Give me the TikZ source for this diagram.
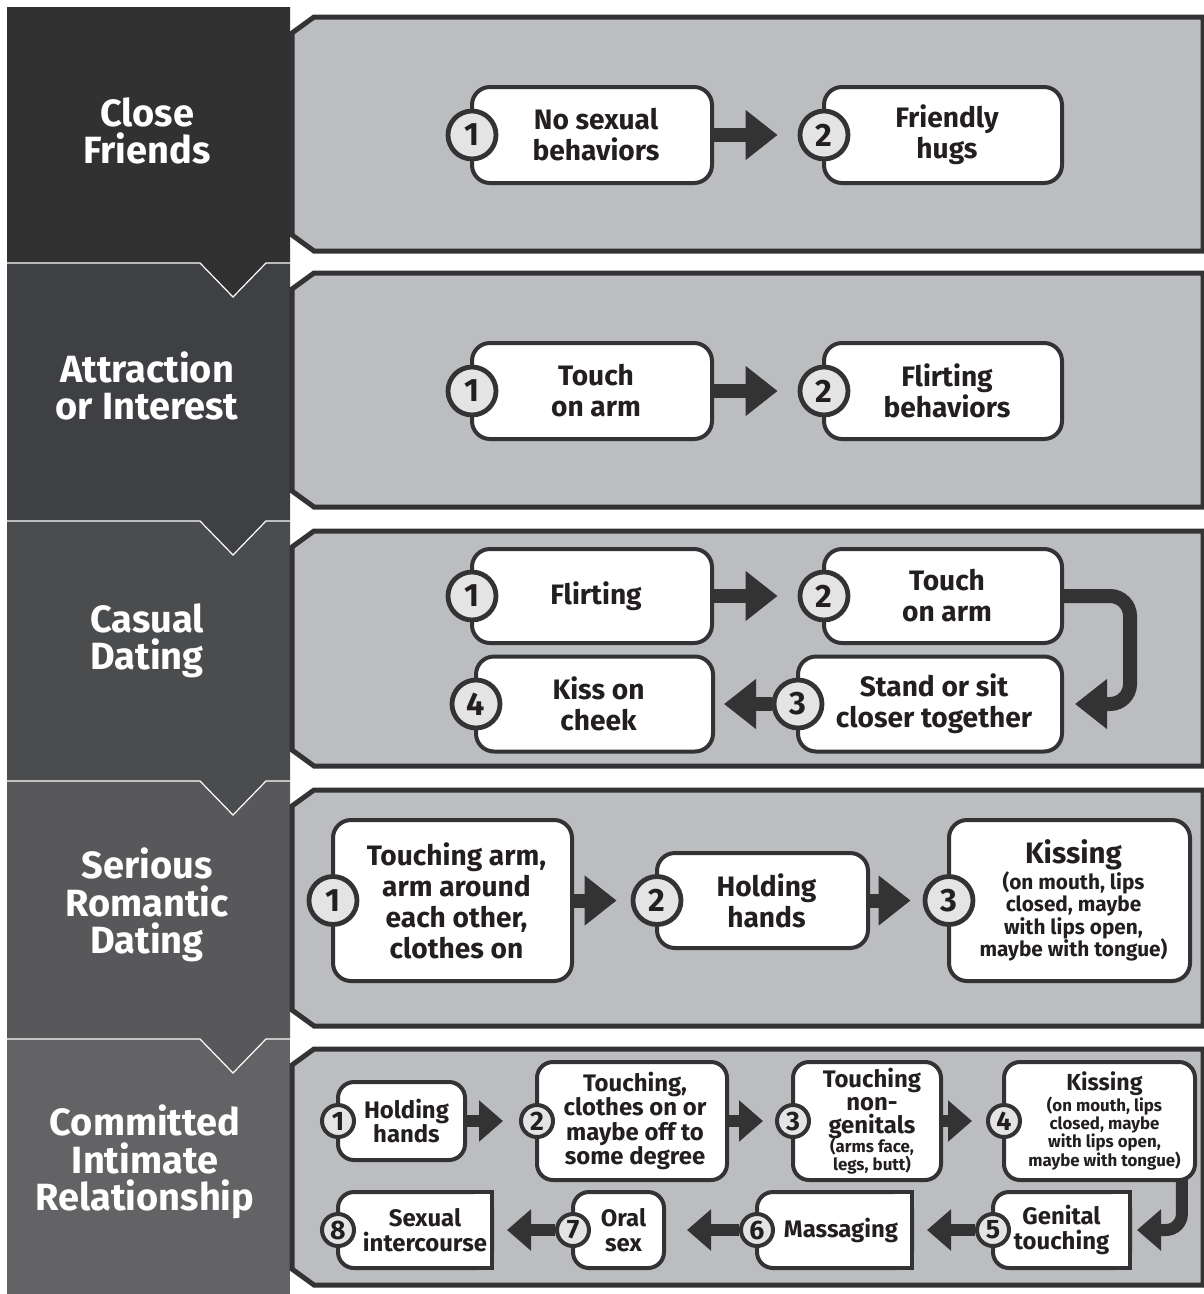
\documentclass[tikz,border=0pt]{standalone}
\usepackage{fontspec}
\setmainfont{Fira Sans}
\usepackage{tikz}
\usetikzlibrary{arrows.meta,positioning}
\usepackage{xcolor}

\definecolor{linec}{HTML}{333333}
\definecolor{panelc}{HTML}{BCBDC0}
\definecolor{textc}{HTML}{231F20}
\definecolor{dotc}{HTML}{E4E4E4}
\definecolor{hdA}{HTML}{313131}
\definecolor{hdB}{HTML}{3F4043}
\definecolor{hdC}{HTML}{4B4C4E}
\definecolor{hdD}{HTML}{58585A}
\definecolor{hdE}{HTML}{636365}

\tikzset{
  panel/.style={fill=panelc, draw=linec, line width=1.25mm, line join=miter},
  stepbox/.style={draw=linec, line width=1mm, fill=white, rounded corners=4.5mm, outer sep=0pt,
    inner sep=0pt, text=textc, font=\bfseries\fontsize{20}{22}\selectfont,
    align=flush center, text width=#1, execute at begin node={\leftskip=2mm plus 1fil}},
  stepbox/.default=52mm,
  smallbox/.style={stepbox=#1, rounded corners=4mm, font=\bfseries\fontsize{17}{17.5}\selectfont,
    execute at begin node={\leftskip=2.5mm plus 1fil}},
  textpad/.style={execute at begin node={\leftskip=#1 plus 1fil}},
  numdot/.style={circle, draw=linec, line width=1.2mm, fill=dotc, minimum size=12mm,
    inner sep=0pt, text=textc, font=\bfseries\fontsize{23}{23}\selectfont},
  smalldot/.style={numdot, minimum size=8mm, line width=1mm, font=\bfseries\fontsize{19}{19}\selectfont},
  flow/.style={draw=linec, line width=3.5mm, -{Triangle[length=8mm,width=12mm]}},
  smallflow/.style={draw=linec, line width=3mm, -{Triangle[length=6mm,width=10mm]}},
  header/.style={text=white, align=center, font=\bfseries\fontsize{27}{26.5}\selectfont},
  seam/.style={draw=white, line width=0.3mm}
}

\begin{document}
\begin{tikzpicture}[x=0.25mm, y=-0.25mm]
\useasboundingbox (0,0) rectangle (1204,1294);
% header column, lowest first so the notches overlap
\fill[hdE] (7,1039) rectangle (290,1294);
\fill[hdD] (7,781) -- (290,781) -- (290,1039) -- (266,1039) -- (233,1073) -- (200,1039) -- (7,1039) -- cycle;
\fill[hdC] (7,521) -- (290,521) -- (290,781) -- (266,781) -- (233,815) -- (200,781) -- (7,781) -- cycle;
\fill[hdB] (7,263) -- (290,263) -- (290,521) -- (266,521) -- (233,555) -- (200,521) -- (7,521) -- cycle;
\fill[hdA] (7,7) -- (290,7) -- (290,263) -- (266,263) -- (233,297) -- (200,263) -- (7,263) -- cycle;
\draw[seam] (7,263) -- (200,263) -- (233,297) -- (266,263) -- (290,263);
\draw[seam] (7,521) -- (200,521) -- (233,555) -- (266,521) -- (290,521);
\draw[seam] (7,781) -- (200,781) -- (233,815) -- (266,781) -- (290,781);
\draw[seam] (7,1039) -- (200,1039) -- (233,1073) -- (266,1039) -- (290,1039);
\node[header] (hd1) at (147,131) {Close\\Friends};
\node[header] (hd2) at (147,386) {Attraction\\or Interest};
\node[header] (hd3) at (147,641) {Casual\\Dating};
\node[header] (hd4) at (147,905) {Serious\\Romantic\\Dating};
\node[header] (hd5) at (145,1162) {Committed\\Intimate\\Relationship};

% panels
\draw[panel] (314,17) -- (1203,17) -- (1203,251) -- (314,251) -- (292,235) -- (292,33) -- cycle;
\draw[panel] (314,273) -- (1203,273) -- (1203,507) -- (314,507) -- (292,491) -- (292,289) -- cycle;
\draw[panel] (314,531) -- (1203,531) -- (1203,766) -- (314,766) -- (292,750) -- (292,547) -- cycle;
\draw[panel] (314,790) -- (1203,790) -- (1203,1026) -- (314,1026) -- (292,1010) -- (292,806) -- cycle;
\draw[panel] (314,1049) -- (1203,1049) -- (1203,1285) -- (314,1285) -- (292,1269) -- (292,1065) -- cycle;

% close friends
\node[stepbox, minimum width=60mm, minimum height=24mm] (b11) at (592,135) {No sexual\\behaviors};
\node[stepbox, minimum width=59.5mm, minimum height=24mm] (b12) at (943,135) {Friendly\\hugs};
\node[numdot] (c11) at (b11.west) {1};
\node[numdot] (c12) at (b12.west) {2};
\draw[flow, shorten >=5mm] (b11.east) -- (c12.west);

% attraction
\node[stepbox, minimum width=60mm, minimum height=24mm] (b21) at (592,391) {Touch\\on arm};
\node[stepbox, minimum width=59.5mm, minimum height=24mm] (b22) at (943,391) {Flirting\\behaviors};
\node[numdot] (c21) at (b21.west) {1};
\node[numdot] (c22) at (b22.west) {2};
\draw[flow, shorten >=5mm] (b21.east) -- (c22.west);

% casual dating
\node[stepbox, minimum width=60mm, minimum height=23.5mm] (b31) at (592,596) {Flirting};
\node[stepbox, minimum width=59.5mm, minimum height=23.5mm] (b32) at (943,596) {Touch\\on arm};
\node[stepbox, minimum width=66mm, minimum height=23.75mm] (b33) at (930,704) {Stand or sit\\closer together};
\node[stepbox, minimum width=59.25mm, minimum height=23.75mm] (b34) at (594.5,704) {Kiss on\\cheek};
\node[numdot] (c31) at (b31.west) {1};
\node[numdot] (c32) at (b32.west) {2};
\node[numdot] (c33) at (b33.west) {3};
\node[numdot] (c34) at (b34.west) {4};
\draw[flow, shorten >=5mm] (b31.east) -- (c32.west);
\draw[flow, rounded corners=5mm, shorten >=3.25mm] (b32.east) -- ([xshift=17mm]b32.east) |- (b33.east);
\draw[flow, shorten >=2.75mm] (c33.west) -- (b34.east);

% serious romantic dating
\node[stepbox, minimum width=59.75mm, minimum height=40.25mm] (b41) at (452.5,900.5) {Touching arm,\\arm around\\each other,\\clothes on};
\node[stepbox, minimum width=52.75mm, minimum height=23.75mm] (b42) at (762.5,900.5) {Holding\\hands};
\node[stepbox, minimum width=60.25mm, minimum height=40.25mm, font=\bfseries\fontsize{14.8}{16}\selectfont] (b43) at (1069.5,900.5)
  {{\fontsize{21}{21}\selectfont Kissing}\\(on mouth, lips\\closed, maybe\\with lips open,\\maybe with tongue)};
\node[numdot] (c41) at (b41.west) {1};
\node[numdot] (c42) at (b42.west) {2};
\node[numdot] (c43) at (b43.west) {3};
\draw[flow, shorten >=3.5mm] (b41.east) -- (c42.west);
\draw[flow, shorten >=3mm] (b42.east) -- (c43.west);

% committed intimate relationship
\node[smallbox=30mm, minimum width=31.75mm, minimum height=19.5mm] (b51) at (401.5,1121) {Holding\\hands};
\node[smallbox=45mm, textpad=1.5mm, minimum width=47.5mm, minimum height=29.5mm] (b52) at (632,1121) {Touching,\\clothes on or\\maybe off to\\some degree};
\node[smallbox=35mm, minimum width=37mm, minimum height=29.5mm, font=\bfseries\fontsize{17}{16.6}\selectfont] (b53) at (867,1121)
  {Touching\\non-\\genitals\\[-3.5pt]{\fontsize{12}{12.8}\selectfont (arms face,}\\[-3.5pt]{\fontsize{12}{12.8}\selectfont legs, butt)}};
\node[smallbox=45mm, minimum width=47.75mm, minimum height=29.5mm, font=\bfseries\fontsize{12}{12.8}\selectfont] (b54) at (1099.5,1121)
  {{\fontsize{16.5}{17}\selectfont Kissing}\\(on mouth, lips\\closed, maybe\\with lips open,\\maybe with tongue)};
\node[smallbox=33mm, textpad=0mm, minimum width=34.25mm, minimum height=19mm] (b55) at (1061.5,1230) {Genital\\touching};
\node[smallbox=37mm, textpad=3.25mm, minimum width=38.75mm, minimum height=19mm] (b56) at (834.5,1230) {Massaging};
\node[smallbox=22mm, minimum width=22.75mm, minimum height=19mm] (b57) at (618.5,1230) {Oral\\sex};
\node[smallbox=37mm, textpad=5mm, minimum width=38.5mm, minimum height=19mm] (b58) at (415,1230) {Sexual\\intercourse};
% square right corners on 5, 6 and 8
\fill[white] ([xshift=-5mm]b55.north east) -- (b55.north east) -- ([yshift=-5mm]b55.north east) -- cycle;
\fill[white] ([xshift=-5mm]b55.south east) -- (b55.south east) -- ([yshift=5mm]b55.south east) -- cycle;
\draw[linec, line width=1mm] ([xshift=-5mm]b55.north east) -- (b55.north east) -- (b55.south east) -- ([xshift=-5mm]b55.south east);
\fill[white] ([xshift=-5mm]b56.north east) -- (b56.north east) -- ([yshift=-5mm]b56.north east) -- cycle;
\fill[white] ([xshift=-5mm]b56.south east) -- (b56.south east) -- ([yshift=5mm]b56.south east) -- cycle;
\draw[linec, line width=1mm] ([xshift=-5mm]b56.north east) -- (b56.north east) -- (b56.south east) -- ([xshift=-5mm]b56.south east);
\fill[white] ([xshift=-5mm]b58.north east) -- (b58.north east) -- ([yshift=-5mm]b58.north east) -- cycle;
\fill[white] ([xshift=-5mm]b58.south east) -- (b58.south east) -- ([yshift=5mm]b58.south east) -- cycle;
\draw[linec, line width=1mm] ([xshift=-5mm]b58.north east) -- (b58.north east) -- (b58.south east) -- ([xshift=-5mm]b58.south east);
\node[smalldot] (c51) at (b51.west) {1};
\node[smalldot] (c52) at (b52.west) {2};
\node[smalldot] (c53) at (b53.west) {3};
\node[smalldot] (c54) at (b54.west) {4};
\node[smalldot] (c55) at (b55.west) {5};
\node[smalldot] (c56) at (b56.west) {6};
\node[smalldot] (c57) at (b57.west) {7};
\node[smalldot] (c58) at (b58.west) {8};
\draw[smallflow, shorten >=4mm] (b51.east) -- (c52.west);
\draw[smallflow, shorten >=3mm] (b52.east) -- (c53.west);
\draw[smallflow, shorten >=3.5mm] (b53.east) -- (c54.west);
\draw[smallflow, rounded corners=4mm, shorten >=1.75mm] ([xshift=20.6mm]b54.south) |- (b55.east);
\draw[smallflow, shorten >=3.75mm] (c55.west) -- (b56.east);
\draw[smallflow, shorten >=5.75mm] (c56.west) -- (b57.east);
\draw[smallflow, shorten >=3.75mm] (c57.west) -- (b58.east);
\end{tikzpicture}
\end{document}
